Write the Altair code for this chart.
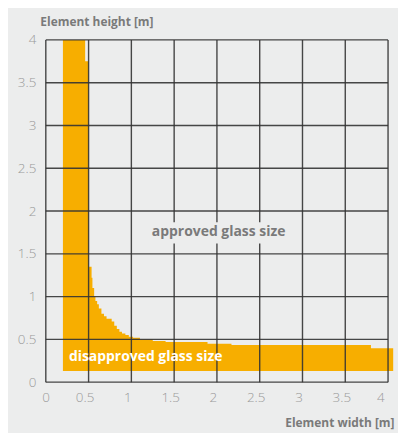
import altair as alt
import pandas as pd

# boundary of the disapproved region (step-after), element width [m] vs max height [m]
width_m = [0.2, 0.46, 0.5, 0.535, 0.545, 0.565, 0.58, 0.6, 0.62, 0.65, 0.68, 0.71, 0.77,
           0.8, 0.83, 0.86, 0.89, 0.93, 0.97, 1.02, 1.1, 1.25, 1.4, 1.89, 2.17, 3.8, 4.06]
height_m = [4.0, 3.75, 1.35, 1.22, 1.1, 1.0, 0.95, 0.91, 0.86, 0.8, 0.77, 0.74, 0.71,
            0.66, 0.62, 0.59, 0.57, 0.55, 0.53, 0.52, 0.5, 0.48, 0.47, 0.45, 0.435, 0.395, 0.395]
base_height = 0.13

grid_vals = [0, 0.5, 1, 1.5, 2, 2.5, 3, 3.5, 4]

ORANGE = "#f7ae00"
BG = "#eceded"
GRID = "#333333"
LABEL = "#9a9a9a"
TITLE = "#7a7a7a"
FONT = "Open Sans"

df = pd.DataFrame({"w": width_m, "h": height_m, "b": [base_height] * len(width_m)})
gdf = pd.DataFrame({"v": grid_vals})

xs = alt.Scale(domain=[0, 4], nice=False)
ys = alt.Scale(domain=[0, 4], nice=False)

x_axis = alt.Axis(values=grid_vals, grid=False, domain=False, ticks=False, format="~g",
                  labelColor=LABEL, labelFont=FONT, labelFontSize=13.5, labelPadding=8,
                  labelFontWeight=300, labelOffset=-4,
                  title="Element width [m]", titleFont=FONT, titleFontSize=12,
                  titleColor=TITLE, titleFontWeight="bold", titleAlign="right",
                  titleX=350, titleY=45, titleBaseline="alphabetic")
y_axis = alt.Axis(values=grid_vals, grid=False, domain=False, ticks=False, format="~g",
                  labelColor=LABEL, labelFont=FONT, labelFontSize=13.5, labelPadding=10,
                  labelFontWeight=300,
                  title="Element height [m]", titleFont=FONT, titleFontSize=12,
                  titleColor=TITLE, titleFontWeight="bold", titleAngle=0,
                  titleAlign="left", titleX=-6, titleY=-15, titleBaseline="alphabetic")

area = alt.Chart(df).mark_area(interpolate="step-after", color=ORANGE, opacity=1).encode(
    x=alt.X("w:Q", scale=xs, axis=x_axis),
    y=alt.Y("h:Q", scale=ys, axis=y_axis),
    y2="b:Q",
)

vgrid = alt.Chart(gdf).mark_rule(color=GRID, strokeWidth=1.4, opacity=0.9).encode(
    x=alt.X("v:Q", scale=xs), y=alt.value(0), y2=alt.value(344))
hgrid = alt.Chart(gdf).mark_rule(color=GRID, strokeWidth=1.4, opacity=0.9).encode(
    y=alt.Y("v:Q", scale=ys), x=alt.value(0), x2=alt.value(344))

lbl_box = alt.Chart(pd.DataFrame({"x1": [1.19], "x2": [2.88], "y1": [1.62], "y2": [1.87]})).mark_rect(
    color=BG).encode(x=alt.X("x1:Q", scale=xs), x2="x2:Q", y=alt.Y("y1:Q", scale=ys), y2="y2:Q")

approved = alt.Chart(pd.DataFrame({"x": [2.02], "y": [1.76], "t": ["approved glass size"]})).mark_text(
    font=FONT, fontSize=14, fontWeight="bold", color=TITLE, align="center", baseline="middle"
).encode(x=alt.X("x:Q", scale=xs), y=alt.Y("y:Q", scale=ys), text="t:N")

disapproved = alt.Chart(pd.DataFrame({"x": [0.27], "y": [0.29], "t": ["disapproved glass size"]})).mark_text(
    font=FONT, fontSize=14, fontWeight="bold", color="white", align="left", baseline="middle"
).encode(x=alt.X("x:Q", scale=xs), y=alt.Y("y:Q", scale=ys), text="t:N")

chart = alt.layer(area, vgrid, hgrid, lbl_box, approved, disapproved).properties(
    width=344, height=344,
    background=BG,
    autosize=alt.AutoSizeParams(type="none"),
    padding={"left": 38, "top": 31, "right": 10, "bottom": 50},
).configure_view(stroke=None)

chart.save("out.html", embed_options={"renderer": "svg", "actions": False})
